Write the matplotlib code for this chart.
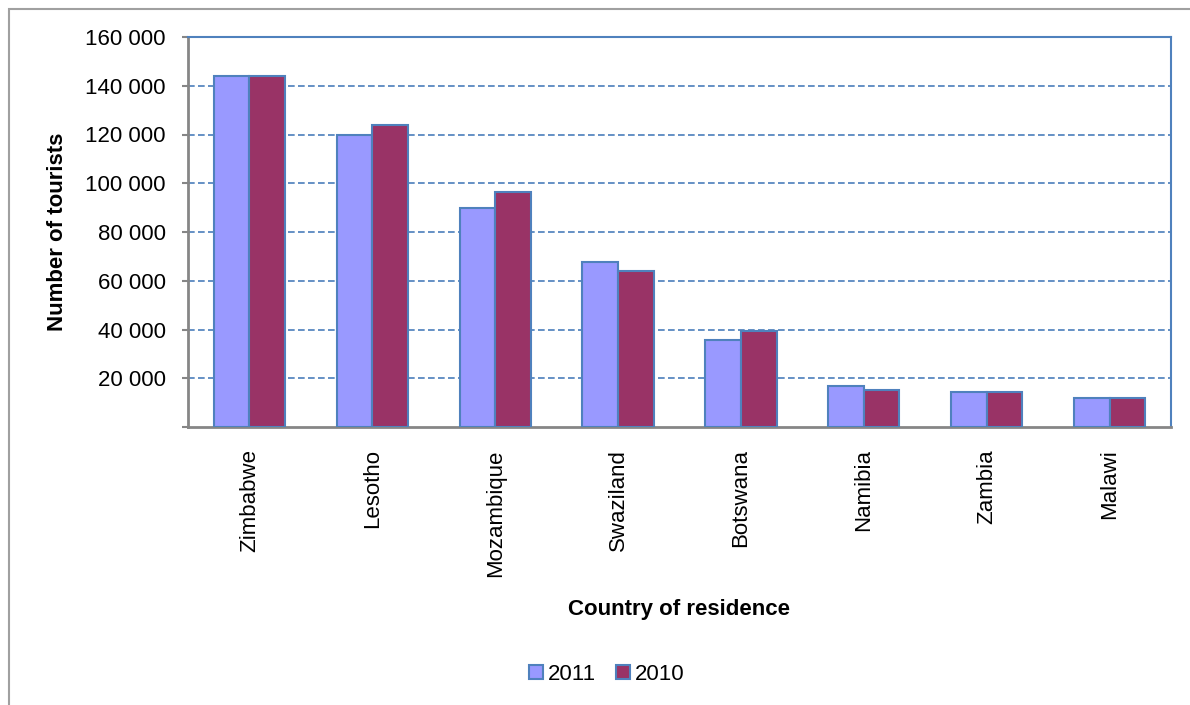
import numpy as np
import matplotlib.pyplot as plt
from matplotlib.patches import Rectangle

# data
countries = ["Zimbabwe", "Lesotho", "Mozambique", "Swaziland",
             "Botswana", "Namibia", "Zambia", "Malawi"]
tourists_2011 = [143800, 120000, 89700, 67700, 35800, 16900, 14200, 12000]
tourists_2010 = [143900, 124000, 96500, 64000, 39400, 15100, 14300, 11900]
y_ticks = [0, 20000, 40000, 60000, 80000, 100000, 120000, 140000, 160000]

plt.rcParams['font.family'] = ['Liberation Sans', 'DejaVu Sans']

W, H = 1190, 705
fig = plt.figure(figsize=(W / 100, H / 100), dpi=100)

# plot area in pixel coordinates
left, right, top, bottom = 188, 1171, 37, 427
ax = fig.add_axes([left / W, 1 - bottom / H, (right - left) / W, (bottom - top) / H])

x = np.arange(len(countries))
bw = 0.29
edge = '#4f81bd'
ax.bar(x - bw / 2, tourists_2011, width=bw, color='#9999ff', edgecolor=edge,
       linewidth=1.5, label='2011', zorder=3)
ax.bar(x + bw / 2, tourists_2010, width=bw, color='#993366', edgecolor=edge,
       linewidth=1.5, label='2010', zorder=3)

ax.set_xlim(-0.5, len(countries) - 0.5)
ax.set_ylim(0, 160000)
ax.set_yticks(y_ticks)
# the zero tick has no label in the original
ax.set_yticklabels([f"{v:,}".replace(",", " ") if v else "" for v in y_ticks],
                   fontsize=16)
ax.set_xticks(x)
ax.set_xticklabels(countries, rotation=90, fontsize=16)
ax.tick_params(axis='x', length=0, pad=16)
ax.tick_params(axis='y', length=4, width=1.5, color='#868686', pad=12)

# dashed gridlines
for v in y_ticks[1:-1]:
    ax.axhline(v, color='#4a7ebb', linestyle=(0, (4, 2)), linewidth=1.2, zorder=1)

for s in ['left', 'bottom']:
    ax.spines[s].set_color('#868686')
    ax.spines[s].set_linewidth(2)
for s in ['top', 'right']:
    ax.spines[s].set_color('#4f81bd')
    ax.spines[s].set_linewidth(1.5)

ax.set_ylabel("Number of tourists", fontsize=16, fontweight='bold')
ax.yaxis.set_label_coords((68 - left) / (right - left), 0.5)
fig.text((left + right) / 2 / W, 1 - 610 / H, "Country of residence",
         fontsize=16, fontweight='bold', ha='center', va='center')

leg = fig.legend(loc='center', bbox_to_anchor=(607 / W, 1 - 674 / H), ncol=2,
                 frameon=False, fontsize=16, handlelength=0.6, handleheight=0.6,
                 handletextpad=0.25, columnspacing=0.9, borderpad=0)

# outer chart border (top and left visible)
fig.patches.append(Rectangle((9 / W, -0.1), 1.2, 1 - 9 / H + 0.1,
                             transform=fig.transFigure, fill=False,
                             edgecolor='#a0a0a0', linewidth=1.5))

fig.savefig("out.png", dpi=100)
